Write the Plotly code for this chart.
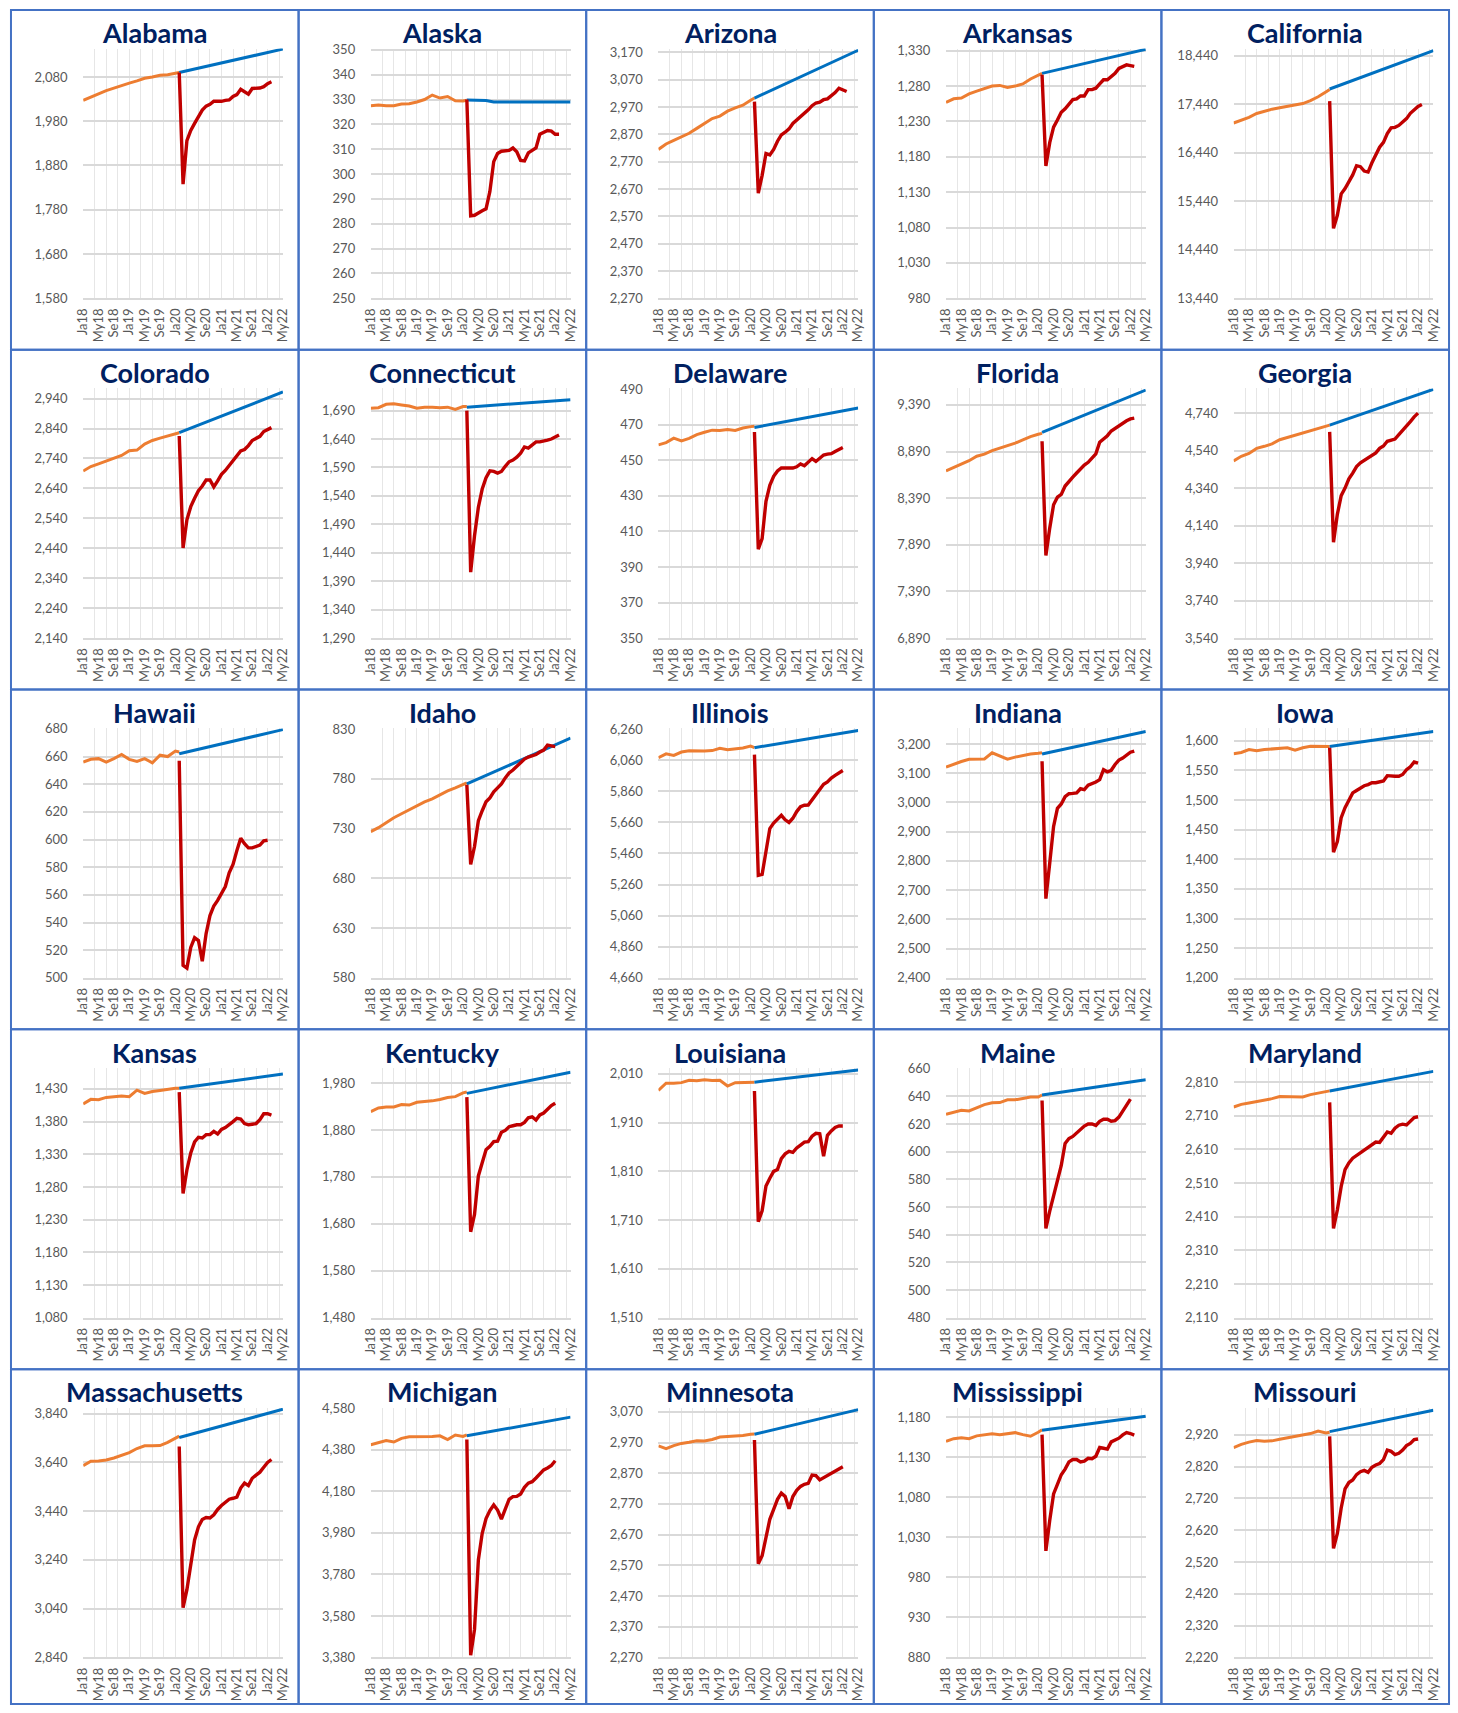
import plotly.graph_objects as go

# ---------------- shared axis categories ----------------
MONTH_TICKS = [0, 4, 8, 12, 16, 20, 24, 28, 32, 36, 40, 44, 48, 52]
MONTH_LABELS = ["Ja18", "My18", "Se18", "Ja19", "My19", "Se19", "Ja20",
                "My20", "Se20", "Ja21", "My21", "Se21", "Ja22", "My22"]
GRID_MONTHS = [0, 3, 6, 9, 12, 15, 18, 21, 24, 27, 30, 33, 36, 39, 42, 45, 48, 51]
PRE_MONTHS = [0, 2, 4, 6, 8, 10, 12, 14, 16, 18, 20, 22, 24, 25]   # Jan18 .. Feb20
TREND_MONTHS = [25, 52]                                             # Feb20 .. May22
POST_START = 25                                                     # actuals from Feb20, monthly

# ---------------- data (thousands of jobs) ----------------
alabama_pre = [2027, 2035, 2042, 2049, 2055, 2060, 2066, 2071, 2077, 2080, 2084, 2085, 2088, 2090]
alabama_trend = [2090, 2143]
alabama_post = [2090, 1838, 1936, 1959, 1975, 1990, 2005, 2014, 2018, 2025, 2025, 2025, 2027, 2028,
                2036, 2040, 2052, 2046, 2041, 2054, 2055, 2055, 2058, 2065, 2069]
alabama_yticks = [1580, 1680, 1780, 1880, 1980, 2080]
alabama_ytop = 2144

alaska_pre = [327.5, 327.8, 327.5, 327.5, 328.2, 328.3, 329, 330, 331.8, 330.6, 331.2, 329.5, 329.4, 329.7]
alaska_trend_months = [25, 30, 32, 52]
alaska_trend = [329.8, 329.6, 329, 329]
alaska_post = [330, 283.2, 283.4, 284.5, 285.2, 286, 293, 305, 308.3, 309.2, 309.3, 309.5, 310.5, 309,
               305.5, 305.3, 308.5, 309.5, 310.5, 316, 316.8, 317.5, 317.3, 316, 316]
alaska_yticks = [250, 260, 270, 280, 290, 300, 310, 320, 330, 340, 350]
alaska_ytop = 350.5

arizona_pre = [2815, 2835, 2848, 2860, 2874, 2892, 2910, 2928, 2937, 2955, 2967, 2977, 2995, 3003]
arizona_trend = [3003, 3178]
arizona_post = [2990, 2655, 2720, 2800, 2795, 2815, 2845, 2868, 2878, 2890, 2910, 2922, 2932, 2948,
                2960, 2975, 2985, 2988, 2997, 3000, 3010, 3023, 3039, 3034, 3027]
arizona_yticks = [2270, 2370, 2470, 2570, 2670, 2770, 2870, 2970, 3070, 3170]
arizona_ytop = 3184

arkansas_pre = [1257, 1262, 1263, 1269, 1273, 1277, 1280, 1281, 1278, 1280, 1283, 1290, 1296, 1298]
arkansas_trend = [1298, 1332]
arkansas_post = [1296, 1167, 1200, 1222, 1232, 1243, 1248, 1255, 1261, 1262, 1266, 1266, 1275, 1275,
                 1277, 1283, 1289, 1289, 1293, 1298, 1305, 1308, 1310, 1309, 1308]
arkansas_yticks = [980, 1030, 1080, 1130, 1180, 1230, 1280, 1330]
arkansas_ytop = 1333

california_pre = [17050, 17100, 17165, 17245, 17295, 17335, 17365, 17390, 17415, 17450, 17510, 17590, 17690, 17740]
california_trend = [17750, 18540]
california_post = [17500, 14880, 15150, 15590, 15700, 15850, 15980, 16170, 16150, 16060, 16040, 16230, 16400,
                   16550, 16650, 16830, 16950, 16960, 17000, 17070, 17140, 17250, 17330, 17390, 17430]
california_yticks = [13440, 14440, 15440, 16440, 17440, 18440]
california_ytop = 18582

colorado_pre = [2698, 2713, 2722, 2732, 2740, 2750, 2766, 2768, 2788, 2800, 2808, 2816, 2823, 2826]
colorado_trend = [2826, 2962]
colorado_post = [2815, 2441, 2535, 2579, 2607, 2632, 2648, 2668, 2668, 2645, 2665, 2687, 2700, 2716,
                 2735, 2748, 2765, 2770, 2783, 2800, 2806, 2814, 2830, 2838, 2843]
colorado_yticks = [2140, 2240, 2340, 2440, 2540, 2640, 2740, 2840, 2940]
colorado_ytop = 2974

connecticut_pre = [1694, 1695, 1701, 1702, 1700, 1698, 1694, 1696, 1696, 1695, 1696, 1692, 1697, 1697]
connecticut_trend = [1696, 1709]
connecticut_post = [1690, 1406, 1470, 1520, 1552, 1572, 1584, 1583, 1580, 1583, 1592, 1600, 1603, 1608,
                    1615, 1626, 1624, 1630, 1635, 1635, 1636, 1638, 1640, 1643, 1647]
connecticut_yticks = [1290, 1340, 1390, 1440, 1490, 1540, 1590, 1640, 1690]
connecticut_ytop = 1729

delaware_pre = [458.7, 460, 462.5, 461, 462.4, 464.5, 465.8, 467, 466.8, 467.3, 466.8, 468.2, 469, 469.2]
delaware_trend = [468.5, 479.5]
delaware_post = [466, 400, 406, 427, 436, 441, 444, 445.7, 445.7, 445.7, 445.7, 446.4, 448, 447,
                 448.8, 451, 449.4, 451.5, 453, 453.5, 453.8, 455, 456, 457.2]
delaware_yticks = [350, 370, 390, 410, 430, 450, 470, 490]
delaware_ytop = 490.5

florida_pre = [8682, 8718, 8757, 8792, 8840, 8862, 8900, 8925, 8950, 8980, 9015, 9050, 9075, 9085]
florida_trend = [9096, 9549]
florida_post = [9000, 7775, 8069, 8320, 8400, 8430, 8520, 8575, 8615, 8660, 8705, 8745, 8775, 8820,
                8866, 8990, 9020, 9060, 9110, 9140, 9160, 9190, 9220, 9240, 9248]
florida_yticks = [6890, 7390, 7890, 8390, 8890, 9390]
florida_ytop = 9567

georgia_pre = [4485, 4510, 4525, 4552, 4563, 4576, 4598, 4610, 4618, 4630, 4642, 4656, 4670, 4676]
georgia_trend = [4676, 4867]
georgia_post = [4640, 4051, 4200, 4300, 4340, 4390, 4420, 4455, 4475, 4488, 4500, 4512, 4528, 4552,
                4565, 4590, 4597, 4602, 4625, 4647, 4670, 4695, 4720, 4740]
georgia_yticks = [3540, 3740, 3940, 4140, 4340, 4540, 4740]
georgia_ytop = 4872

hawaii_pre = [656, 658, 658.5, 656, 658.5, 661.5, 658, 656.5, 658.5, 655.5, 661, 660, 664, 663.3]
hawaii_trend = [662, 679.5]
hawaii_post = [657, 509, 507, 522, 529, 527, 512, 532, 545, 552, 556, 561, 566, 576, 582, 592,
               601, 597, 594, 594, 595, 596, 599, 599.5]
hawaii_yticks = [500, 520, 540, 560, 580, 600, 620, 640, 660, 680]
hawaii_ytop = 680.5

idaho_pre = [727, 731, 736, 741, 745, 749, 753, 757, 760, 764, 768, 771, 774, 776]
idaho_trend = [775, 821]
idaho_post = [774, 694, 712, 738, 748, 757, 761, 767, 771, 775, 781, 786, 789, 793, 797, 800,
              802, 803, 804.5, 807, 809, 814, 813, 812.5]
idaho_yticks = [580, 630, 680, 730, 780, 830]
idaho_ytop = 831

illinois_pre = [6075, 6100, 6090, 6112, 6120, 6117, 6118, 6121, 6136, 6126, 6130, 6138, 6150, 6140]
illinois_trend = [6140, 6250]
illinois_post = [6095, 5319, 5325, 5470, 5620, 5655, 5680, 5705, 5676, 5659, 5686, 5729, 5760, 5770,
                 5771, 5805, 5830, 5870, 5905, 5920, 5945, 5962, 5978, 5993]
illinois_yticks = [4660, 4860, 5060, 5260, 5460, 5660, 5860, 6060, 6260]
illinois_ytop = 6265

indiana_pre = [3121, 3131, 3140, 3148, 3149, 3149, 3170, 3158, 3148, 3155, 3160, 3166, 3168, 3170]
indiana_trend = [3166, 3243]
indiana_post = [3141, 2671, 2793, 2918, 2980, 2995, 3020, 3030, 3031, 3033, 3047, 3044, 3059, 3064,
                3070, 3078, 3112, 3105, 3110, 3130, 3145, 3152, 3162, 3172, 3176]
indiana_yticks = [2400, 2500, 2600, 2700, 2800, 2900, 3000, 3100, 3200]
indiana_ytop = 3254

iowa_pre = [1578, 1580, 1585, 1583, 1585, 1586, 1586, 1588, 1584, 1588, 1590.5, 1590.5, 1590.5, 1590]
iowa_trend = [1590, 1615.6]
iowa_post = [1588, 1412, 1430, 1470, 1487, 1500, 1512, 1516, 1520, 1524, 1526, 1529, 1529, 1530,
             1532, 1541, 1540, 1540, 1540, 1543, 1551, 1556, 1564, 1562]
iowa_yticks = [1200, 1250, 1300, 1350, 1400, 1450, 1500, 1550, 1600]
iowa_ytop = 1621

kansas_pre = [1407, 1414, 1413.5, 1417, 1418, 1419, 1418, 1428, 1423, 1426, 1427.5, 1429.5, 1431, 1431]
kansas_trend = [1431, 1452.7]
kansas_post = [1425, 1270, 1306, 1332, 1349, 1356, 1355, 1360, 1360, 1365, 1361, 1368, 1371, 1375,
               1380, 1385, 1384, 1377, 1375, 1376, 1377, 1383, 1392, 1392, 1390]
kansas_yticks = [1080, 1130, 1180, 1230, 1280, 1330, 1380, 1430]
kansas_ytop = 1462

kentucky_pre = [1919, 1927, 1929, 1929, 1934, 1933, 1939, 1940, 1942, 1945, 1949, 1951, 1959, 1961]
kentucky_trend = [1958, 2003]
kentucky_post = [1950, 1663, 1700, 1782, 1810, 1838, 1845, 1855, 1856, 1875, 1879, 1887, 1889, 1891,
                 1891, 1896, 1906, 1908, 1901, 1912, 1916, 1925, 1932, 1937]
kentucky_yticks = [1480, 1580, 1680, 1780, 1880, 1980]
kentucky_ytop = 2012

louisiana_pre = [1976, 1991, 1991, 1992, 1997, 1996, 1998, 1996.5, 1997, 1985, 1992, 1992, 1992, 1993]
louisiana_trend = [1993, 2018]
louisiana_post = [1975, 1707, 1729, 1780, 1796, 1810, 1814, 1836, 1846, 1851, 1849, 1858, 1864, 1870,
                  1871, 1882, 1888, 1887, 1841, 1884, 1893, 1900, 1903, 1903]
louisiana_yticks = [1510, 1610, 1710, 1810, 1910, 2010]
louisiana_ytop = 2022

maine_pre = [627, 628.5, 630, 629.5, 631.5, 634, 635.4, 635.5, 637.5, 637.5, 638.5, 639.5, 639.5, 641]
maine_trend = [641, 652]
maine_post = [637, 544.5, 557, 568, 577, 590, 606, 609.5, 611, 613.5, 616.5, 618.5, 620, 620, 619,
              622, 623.5, 623.5, 622, 622.5, 625, 629.5, 634, 638]
maine_yticks = [480, 500, 520, 540, 560, 580, 600, 620, 640, 660]
maine_ytop = 660.5

maryland_pre = [2736, 2744, 2748, 2752, 2757, 2761, 2767, 2767, 2768, 2766, 2773, 2778, 2781, 2784]
maryland_trend = [2783.5, 2842]
maryland_post = [2750, 2375, 2430, 2500, 2550, 2570, 2584, 2592, 2598, 2607, 2617, 2624, 2632, 2631,
                 2646, 2662, 2658, 2673, 2682, 2685, 2683, 2695, 2705, 2707]
maryland_yticks = [2110, 2210, 2310, 2410, 2510, 2610, 2710, 2810]
maryland_ytop = 2852

massachusetts_pre = [3627, 3645, 3646, 3650, 3658, 3668, 3680, 3697, 3708, 3708, 3709, 3722, 3740, 3748]
massachusetts_trend = [3742, 3858]
massachusetts_post = [3705, 3044, 3118, 3213, 3322, 3376, 3406, 3414, 3412, 3425, 3447, 3463, 3477, 3489,
                      3493, 3498, 3535, 3555, 3545, 3575, 3588, 3600, 3620, 3640, 3652]
massachusetts_yticks = [2840, 3040, 3240, 3440, 3640, 3840]
massachusetts_ytop = 3864

michigan_pre = [4405, 4415, 4425, 4418, 4436, 4443, 4443, 4446, 4445, 4448, 4430, 4452, 4445, 4453]
michigan_trend = [4448, 4538]
michigan_post = [4430, 3391, 3515, 3850, 3978, 4049, 4088, 4115, 4090, 4047, 4095, 4142, 4155, 4156,
                 4168, 4200, 4220, 4227, 4245, 4264, 4284, 4293, 4305, 4328]
michigan_yticks = [3380, 3580, 3780, 3980, 4180, 4380, 4580]
michigan_ytop = 4583

minnesota_pre = [2959, 2950, 2960, 2967, 2971, 2976, 2975, 2980, 2988, 2990, 2990, 2993, 2997, 2998]
minnesota_trend = [2997, 3077]
minnesota_post = [2978, 2575, 2601, 2660, 2720, 2752, 2785, 2805, 2794, 2754, 2794, 2814, 2827, 2834,
                  2837, 2864, 2862, 2848, 2855, 2862, 2868, 2877, 2884, 2891]
minnesota_yticks = [2270, 2370, 2470, 2570, 2670, 2770, 2870, 2970, 3070]
minnesota_ytop = 3083

mississippi_pre = [1149.5, 1153, 1154, 1153, 1156.5, 1157.7, 1159, 1158, 1159.4, 1160.5, 1158, 1156, 1161, 1164]
mississippi_trend = [1163.5, 1181]
mississippi_post = [1158, 1013, 1051, 1084, 1096, 1108, 1115, 1124, 1127, 1127, 1124, 1125, 1128.5, 1128,
                    1131, 1142, 1141, 1140, 1149, 1151, 1153.6, 1157.7, 1160.6, 1159.4, 1157.5]
mississippi_yticks = [880, 930, 980, 1030, 1080, 1130, 1180]
mississippi_ytop = 1191.5

missouri_pre = [2880, 2890, 2897, 2902, 2900, 2901, 2906, 2911, 2915, 2920, 2924, 2932, 2926, 2928]
missouri_trend = [2930, 2997]
missouri_post = [2915, 2563, 2610, 2690, 2750, 2770, 2778, 2795, 2804, 2808, 2802, 2818, 2825, 2830,
                 2842, 2872, 2868, 2858, 2862, 2872, 2886, 2893, 2905, 2907]
missouri_yticks = [2220, 2320, 2420, 2520, 2620, 2720, 2820, 2920]
missouri_ytop = 3005

STATES = [
    ("Alabama", alabama_pre, TREND_MONTHS, alabama_trend, alabama_post, alabama_yticks, alabama_ytop),
    ("Alaska", alaska_pre, alaska_trend_months, alaska_trend, alaska_post, alaska_yticks, alaska_ytop),
    ("Arizona", arizona_pre, TREND_MONTHS, arizona_trend, arizona_post, arizona_yticks, arizona_ytop),
    ("Arkansas", arkansas_pre, TREND_MONTHS, arkansas_trend, arkansas_post, arkansas_yticks, arkansas_ytop),
    ("California", california_pre, TREND_MONTHS, california_trend, california_post, california_yticks, california_ytop),
    ("Colorado", colorado_pre, TREND_MONTHS, colorado_trend, colorado_post, colorado_yticks, colorado_ytop),
    ("Connecticut", connecticut_pre, TREND_MONTHS, connecticut_trend, connecticut_post, connecticut_yticks, connecticut_ytop),
    ("Delaware", delaware_pre, TREND_MONTHS, delaware_trend, delaware_post, delaware_yticks, delaware_ytop),
    ("Florida", florida_pre, TREND_MONTHS, florida_trend, florida_post, florida_yticks, florida_ytop),
    ("Georgia", georgia_pre, TREND_MONTHS, georgia_trend, georgia_post, georgia_yticks, georgia_ytop),
    ("Hawaii", hawaii_pre, TREND_MONTHS, hawaii_trend, hawaii_post, hawaii_yticks, hawaii_ytop),
    ("Idaho", idaho_pre, TREND_MONTHS, idaho_trend, idaho_post, idaho_yticks, idaho_ytop),
    ("Illinois", illinois_pre, TREND_MONTHS, illinois_trend, illinois_post, illinois_yticks, illinois_ytop),
    ("Indiana", indiana_pre, TREND_MONTHS, indiana_trend, indiana_post, indiana_yticks, indiana_ytop),
    ("Iowa", iowa_pre, TREND_MONTHS, iowa_trend, iowa_post, iowa_yticks, iowa_ytop),
    ("Kansas", kansas_pre, TREND_MONTHS, kansas_trend, kansas_post, kansas_yticks, kansas_ytop),
    ("Kentucky", kentucky_pre, TREND_MONTHS, kentucky_trend, kentucky_post, kentucky_yticks, kentucky_ytop),
    ("Louisiana", louisiana_pre, TREND_MONTHS, louisiana_trend, louisiana_post, louisiana_yticks, louisiana_ytop),
    ("Maine", maine_pre, TREND_MONTHS, maine_trend, maine_post, maine_yticks, maine_ytop),
    ("Maryland", maryland_pre, TREND_MONTHS, maryland_trend, maryland_post, maryland_yticks, maryland_ytop),
    ("Massachusetts", massachusetts_pre, TREND_MONTHS, massachusetts_trend, massachusetts_post, massachusetts_yticks, massachusetts_ytop),
    ("Michigan", michigan_pre, TREND_MONTHS, michigan_trend, michigan_post, michigan_yticks, michigan_ytop),
    ("Minnesota", minnesota_pre, TREND_MONTHS, minnesota_trend, minnesota_post, minnesota_yticks, minnesota_ytop),
    ("Mississippi", mississippi_pre, TREND_MONTHS, mississippi_trend, mississippi_post, mississippi_yticks, mississippi_ytop),
    ("Missouri", missouri_pre, TREND_MONTHS, missouri_trend, missouri_post, missouri_yticks, missouri_ytop),
]

# ---------------- styling / layout ----------------
W, H = 1458, 1713
COL_X0, COL_PITCH = 2, 290.8
ROW_Y0, ROW_PITCH = 2, 343.0
PLOT_L, PLOT_R = 73, 275      # plot area inside a panel (px from panel left)
PLOT_T, PLOT_B = 39, 291      # plot area inside a panel (px from panel top)
TITLE_Y = 23

ORANGE = "#ED7D31"
BLUE = "#0070C0"
RED = "#C00000"
BORDER = "#4472C4"
TITLE_COLOR = "#002060"
TICK_COLOR = "#595959"
HGRID = "#D9D9D9"
VGRID = "#E6E6E6"
FONT = "Lato, 'Open Sans', sans-serif"


def fx(px):
    return px / W


def fy(py):
    return 1 - py / H


fig = go.Figure()
layout = dict(
    autosize=True, margin=dict(l=0, r=0, t=0, b=0),
    paper_bgcolor="white", plot_bgcolor="white", showlegend=False,
    font=dict(family=FONT, color=TICK_COLOR),
)
shapes, annotations = [], []

for i, (name, pre, trend_months, trend, post, yticks, ytop) in enumerate(STATES):
    r, c = divmod(i, 5)
    n = "" if i == 0 else str(i + 1)
    xa, ya = "x" + n, "y" + n
    px0 = COL_X0 + c * COL_PITCH
    py0 = ROW_Y0 + r * ROW_PITCH

    post_months = list(range(POST_START, POST_START + len(post)))
    fig.add_trace(go.Scatter(x=PRE_MONTHS, y=pre, mode="lines", xaxis=xa, yaxis=ya,
                             line=dict(color=ORANGE, width=3), hoverinfo="skip"))
    fig.add_trace(go.Scatter(x=trend_months, y=trend, mode="lines", xaxis=xa, yaxis=ya,
                             line=dict(color=BLUE, width=3), hoverinfo="skip"))
    fig.add_trace(go.Scatter(x=post_months, y=post, mode="lines", xaxis=xa, yaxis=ya,
                             line=dict(color=RED, width=3.4), hoverinfo="skip"))

    layout["xaxis" + n] = dict(
        domain=[fx(px0 + PLOT_L), fx(px0 + PLOT_R)],
        anchor=ya, range=[0, 52], fixedrange=True,
        tickmode="array", tickvals=MONTH_TICKS, ticktext=MONTH_LABELS,
        tickangle=-90, tickfont=dict(size=13, color=TICK_COLOR, family=FONT),
        ticks="outside", ticklen=3, tickcolor="rgba(0,0,0,0)",
        showgrid=False, zeroline=False,
        showline=True, linecolor=HGRID, linewidth=2,
        minor=dict(tickmode="array", tickvals=[g + 0.001 for g in GRID_MONTHS],
                   showgrid=True, gridcolor=VGRID, gridwidth=1, ticks=""),
    )
    layout["yaxis" + n] = dict(
        domain=[fy(py0 + PLOT_B), fy(py0 + PLOT_T)],
        anchor=xa, range=[yticks[0], ytop], fixedrange=True,
        tickmode="array", tickvals=yticks, ticktext=[f"{v:,}" for v in yticks],
        tickfont=dict(size=13, color=TICK_COLOR, family=FONT),
        ticks="outside", ticklen=12, tickcolor="rgba(0,0,0,0)",
        showgrid=True, gridcolor=HGRID, gridwidth=2,
        zeroline=False, showline=False,
    )
    annotations.append(dict(
        text=f"<b>{name}</b>", xref="paper", yref="paper",
        x=fx(px0 + COL_PITCH / 2), y=fy(py0 + TITLE_Y),
        xanchor="center", yanchor="middle", showarrow=False,
        font=dict(size=27, color=TITLE_COLOR, family=FONT),
    ))
    shapes.append(dict(
        type="rect", xref="paper", yref="paper",
        x0=fx(px0), x1=fx(min(px0 + COL_PITCH, W - 1)),
        y0=fy(min(py0 + ROW_PITCH, H - 1)), y1=fy(py0),
        line=dict(color=BORDER, width=2), fillcolor="rgba(0,0,0,0)", layer="above",
    ))

layout["shapes"] = shapes
layout["annotations"] = annotations
fig.update_layout(**layout)
# the graph div is pinned to the page origin so the default page margin cannot shift it
fig.write_html("out.html", config={"displayModeBar": False},
               default_width=f"{W}px",
               default_height=f"{H}px; position:absolute; left:0px; top:0px")
